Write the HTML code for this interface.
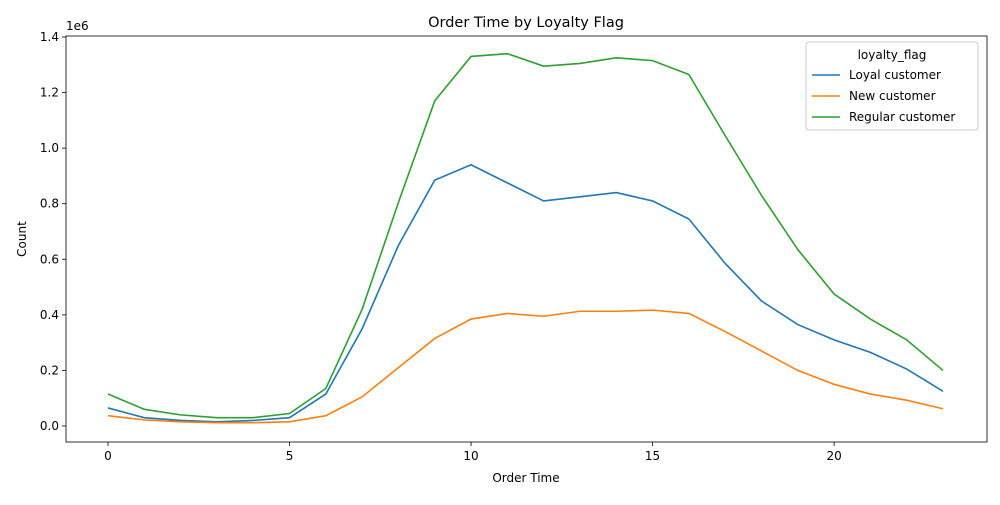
<!DOCTYPE html>
<html><head><meta charset="utf-8"><style>
body{margin:0;background:#fff;font-family:"Liberation Sans","DejaVu Sans",sans-serif;}
svg text{font-family:"DejaVu Sans","Liberation Sans",sans-serif;}
</style></head><body>
<svg id="chart" width="1000" height="500" viewBox="0 0 1000 500"></svg>
<script>
const hours=[0,1,2,3,4,5,6,7,8,9,10,11,12,13,14,15,16,17,18,19,20,21,22,23];
const loyal=[0.065,0.03,0.02,0.015,0.02,0.03,0.115,0.35,0.65,0.885,0.94,0.875,0.81,0.825,0.84,0.81,0.745,0.585,0.45,0.365,0.31,0.265,0.205,0.125];
const newCust=[0.037,0.022,0.015,0.012,0.012,0.015,0.037,0.105,0.21,0.315,0.385,0.405,0.395,0.413,0.413,0.417,0.405,0.34,0.27,0.2,0.15,0.115,0.093,0.062];
const regular=[0.115,0.06,0.04,0.03,0.03,0.045,0.135,0.42,0.805,1.17,1.33,1.34,1.295,1.305,1.325,1.315,1.265,1.045,0.83,0.635,0.475,0.385,0.31,0.2];
const xTicks=[0,5,10,15,20];
const yTicks=[0,0.2,0.4,0.6,0.8,1.0,1.2,1.4];
const seriesNames=["Loyal customer","New customer","Regular customer"];
const colors=["#1f77b4","#ff7f0e","#2ca02c"];

const svg=document.getElementById('chart');
const NS="http://www.w3.org/2000/svg";
const L=66,R=987,T=36,B=442;
const X=v=>108+(v-0)*(943-108)/23;
const Y=v=>426-v*(426-37)/1.4;
function mk(tag,attrs,parent){const e=document.createElementNS(NS,tag);for(const k in attrs)e.setAttribute(k,attrs[k]);(parent||svg).appendChild(e);return e;}

const frame=mk('rect',{x:L,y:T,width:R-L,height:B-T,fill:'none',stroke:'#000','stroke-width':0.8});



xTicks.forEach(t=>{
  const l=mk('line',{x1:X(t),x2:X(t),y1:B,y2:B+4,stroke:'#000','stroke-width':0.8});
  
  
  const tx=mk('text',{x:X(t),y:B+18,'text-anchor':'middle','font-size':12});
  tx.textContent=t;
  
  
});
yTicks.forEach(t=>{
  const l=mk('line',{x1:L-4,x2:L,y1:Y(t),y2:Y(t),stroke:'#000','stroke-width':0.8});
  
  
  const tx=mk('text',{x:L-7,y:Y(t)+4,'text-anchor':'end','font-size':12});
  tx.textContent=t.toFixed(1);
  
  
});
const off=mk('text',{x:L,y:T-6,'font-size':12});off.textContent='1e6';


const title=mk('text',{x:526,y:27,'text-anchor':'middle','font-size':14.5});title.textContent='Order Time by Loyalty Flag';


const xt=mk('text',{x:526,y:482,'text-anchor':'middle','font-size':12});xt.textContent='Order Time';


const yt=mk('text',{x:26,y:239,'text-anchor':'middle','font-size':12,transform:'rotate(-90 26 239)'});yt.textContent='Count';



[loyal,newCust,regular].forEach((s,i)=>{
  const p=mk('polyline',{points:s.map((v,j)=>X(hours[j])+','+Y(v)).join(' '),fill:'none',stroke:colors[i],'stroke-width':1.6});
  
  
});

const lg=mk('rect',{x:806,y:42,width:172,height:88,fill:'#fff','fill-opacity':0.8,stroke:'#ccc',rx:3});


const lt=mk('text',{x:892,y:59,'text-anchor':'middle','font-size':12});lt.textContent='loyalty_flag';


seriesNames.forEach((n,i)=>{
  const y=75+i*21;
  const ln=mk('line',{x1:812,x2:840,y1:y,y2:y,stroke:colors[i],'stroke-width':1.6});
  
  
  const tx=mk('text',{x:849,y:y+4,'font-size':12});tx.textContent=n;
  
  
});
</script>
</body></html>
